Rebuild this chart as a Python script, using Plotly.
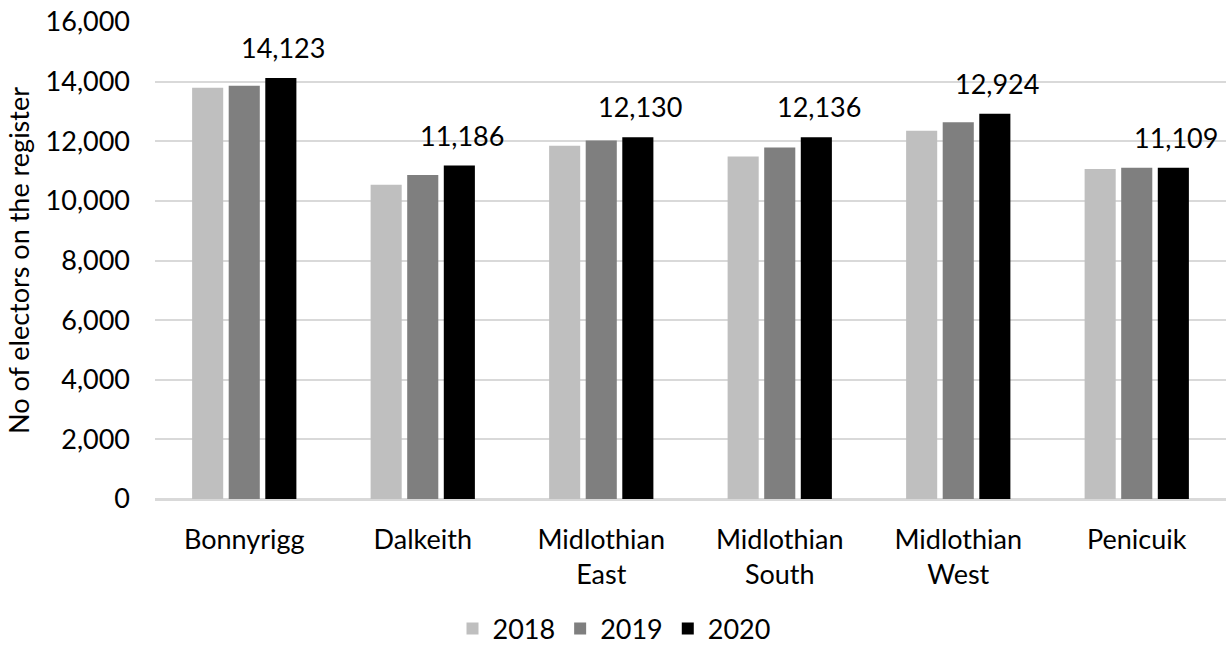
import plotly.graph_objects as go

categories = ["Bonnyrigg", "Dalkeith", "Midlothian<br>East", "Midlothian<br>South", "Midlothian<br>West", "Penicuik"]
years = ["2018", "2019", "2020"]
values_2018 = [13795, 10540, 11850, 11490, 12350, 11070]
values_2019 = [13860, 10865, 12025, 11790, 12640, 11115]
values_2020 = [14123, 11186, 12130, 12136, 12924, 11109]
colors = ["#bfbfbf", "#7f7f7f", "#000000"]
y_ticks = [0, 2000, 4000, 6000, 8000, 10000, 12000, 14000, 16000]

FONT = "Lato"
FS = 27

fig = go.Figure()
for name, vals, col in zip(years, [values_2018, values_2019, values_2020], colors):
    fig.add_trace(go.Bar(
        name=name, x=categories, y=vals,
        marker=dict(color=col, line=dict(width=0)),
    ))

# data labels for 2020 series
for cat, v in zip(categories, values_2020):
    fig.add_annotation(
        x=cat, y=v, xref="x", yref="y",
        text=f"{v:,}", showarrow=False,
        xanchor="center", yanchor="bottom",
        xshift=39, yshift=12,
        font=dict(family=FONT, size=FS, color="#000000"),
    )

fig.update_layout(
    width=1228, height=645,
    margin=dict(l=155, r=2, t=22, b=146, autoexpand=False),
    paper_bgcolor="white", plot_bgcolor="white",
    barmode="group", bargap=0.385, bargroupgap=0.15,
    font=dict(family=FONT, size=FS, color="#000000"),
    showlegend=True,
    legend=dict(
        orientation="h", x=0.5, xref="container", xanchor="center",
        y=0.025, yref="container", yanchor="middle",
        bgcolor="rgba(0,0,0,0)",
        font=dict(family=FONT, size=FS, color="#000000"),
        itemwidth=30, traceorder="normal",
    ),
    xaxis=dict(
        showgrid=False, showline=True, linecolor="#d9d9d9", linewidth=1.5,
        ticks="", tickfont=dict(family=FONT, size=FS, color="#000000"),
        ticklabelstandoff=16,
    ),
    yaxis=dict(
        range=[0, 16000], tickvals=y_ticks, tickformat=",",
        showgrid=True, gridcolor="#d9d9d9", gridwidth=1.5,
        zeroline=True, zerolinecolor="#d9d9d9", zerolinewidth=1.5,
        showline=False, ticks="",
        tickfont=dict(family=FONT, size=FS, color="#000000"),
        ticklabelstandoff=24,
        title=dict(text="No of electors on the register", standoff=8,
                   font=dict(family=FONT, size=FS, color="#000000")),
    ),
)

fig.write_html("out.html")
